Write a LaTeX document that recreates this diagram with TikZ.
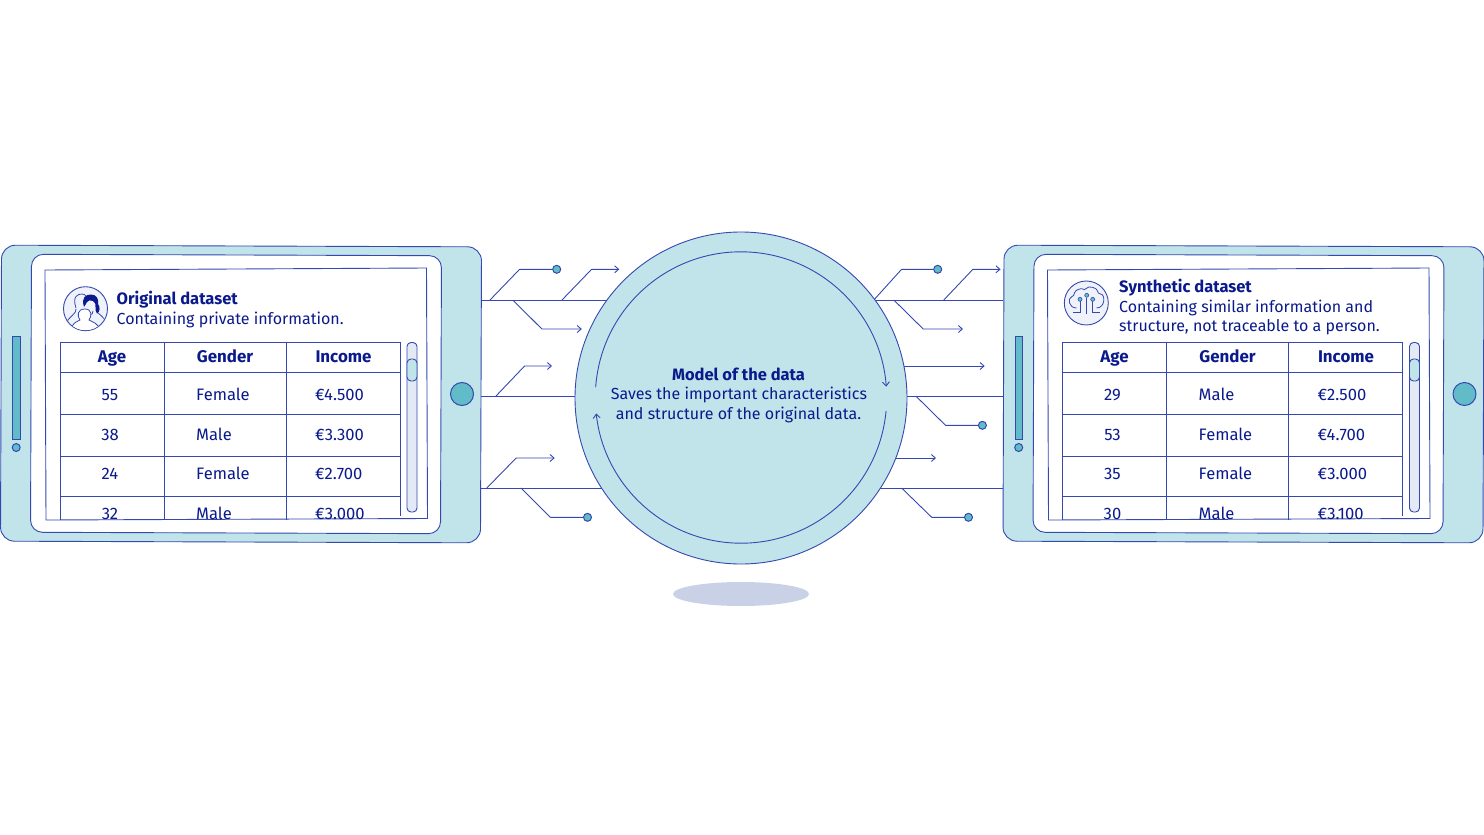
\documentclass[tikz,border=0pt]{standalone}
\usepackage{fontspec}
\setmainfont{Fira Sans}
\usetikzlibrary{arrows.meta,calc,shapes.geometric}
\definecolor{linec}{HTML}{3548B0}
\definecolor{textc}{HTML}{0A1A8C}
\definecolor{bodyc}{HTML}{C1E4EA}
\definecolor{tealc}{HTML}{62BBC8}
\definecolor{lavc}{HTML}{E4E9F6}
\definecolor{shadc}{HTML}{C9D1E6}
\tikzset{
  ln/.style={draw=linec,line width=0.9pt},
  txt/.style={text=textc,font=\fontsize{16}{19}\selectfont,inner sep=0pt,anchor=base west},
  tbl/.style={txt,font=\fontsize{16.6}{19}\selectfont},
  hd/.style={txt,font=\fontsize{16.5}{19}\selectfont\bfseries},
  thd/.style={txt,anchor=base,font=\fontsize{16.9}{19}\selectfont\bfseries},
  wire/.style={draw=linec,line width=0.9pt,line join=round},
  arrowwire/.style={wire,-{Straight Barb[length=4pt,width=7pt,line width=0.9pt]}},
  dotn/.style={circle,draw=linec,fill=tealc,line width=1pt,minimum size=8pt,inner sep=0pt},
  tabletbox/.style={ln,fill=bodyc,rounded corners=14pt,rectangle,minimum width=480pt,minimum height=296pt,inner sep=0pt,rotate=-0.2},
}
\newcommand{\tabletbody}[1]{%
  \begin{scope}[rotate around={-0.2:(241,394)}]
    \draw[ln,fill=white,rounded corners=12pt] (31,255) rectangle (441,533);
  \end{scope}
  \draw[ln,fill=white] (45,270) -- (426.5,268) -- (427.5,518.5) -- (46,520) -- cycle;
  \draw[ln,fill=lavc,rounded corners=4pt] (407,342.5) rectangle (417,512);
  \draw[ln,fill=bodyc,rounded corners=4pt] (407,359) rectangle (417,381);
  \draw[ln,fill=tealc] (12.8,336) rectangle (20,439);
  \node[dotn] (#1led) at (16.2,447.5) {};
  \node[dotn,minimum size=23pt] (#1btn) at (462,394) {};
  \draw[ln] (60,342) -- (400,342) (60,372) -- (400,372) (60,414) -- (400,414) (60,456.5) -- (400,456.5) (60,496) -- (400,496);
  \draw[ln] (60,342) -- (60,519.5) (164,342) -- (164,519.5) (286,342) -- (286,519.5) (400,342) -- (400,516);
  \node[thd] (#1hage) at (112,362.5) {Age};
  \node[thd] (#1hgen) at (225,362.5) {Gender};
  \node[thd] (#1hinc) at (343.5,362.5) {Income};
}
\newcommand{\tablerow}[5]{%
  \node[tbl,anchor=base] (#1a) at (110,#2) {#3};
  \node[tbl] (#1g) at (196,#2) {#4};
  \node[tbl] (#1i) at (315,#2) {#5};
}
\begin{document}
\begin{tikzpicture}[x=1pt,y=-1pt]
\useasboundingbox (0,0) rectangle (1484,835);
% tablets
\node[tabletbox] (ltab) at (241,394) {};
\node[tabletbox] (rtab) at (1243.5,394) {};
% shadow
\node[ellipse,fill=shadc,minimum width=136pt,minimum height=24pt,inner sep=0pt] (shadow) at (741,594) {};
% trunks run tablet to tablet, behind the circle
\coordinate (t1) at (300,300); \coordinate (t2) at (300,396); \coordinate (t3) at (300,488);
\draw[wire] (ltab.east |- t1) -- (rtab.west |- t1);
\draw[wire] (ltab.east |- t2) -- (rtab.west |- t2);
\draw[wire] (ltab.east |- t3) -- (rtab.west |- t3);
% left branches
\node[dotn] (dl1) at (556.7,269.3) {};
\draw[wire] (490,300) -- (519.6,269.3) -- (dl1);
\coordinate (al2) at (619.3,269.3);
\draw[arrowwire] (562,300) -- (591.6,269.3) -- (al2);
\coordinate (al3) at (581.8,329);
\draw[arrowwire] (512.8,300) -- (541.9,329) -- (al3);
\coordinate (al4) at (552,366);
\draw[arrowwire] (496,396) -- (524.6,366) -- (al4);
\coordinate (al5) at (554.7,458);
\draw[arrowwire] (486.8,488) -- (516.2,458) -- (al5);
\node[dotn] (dl6) at (587.5,517.3) {};
\draw[wire] (520.9,488) -- (550.3,517.3) -- (dl6);
% right branches
\node[dotn] (dr1) at (937.7,269.3) {};
\draw[wire] (873.8,300) -- (901.6,269.3) -- (dr1);
\coordinate (ar2) at (1000.6,269.3);
\draw[arrowwire] (943.8,300) -- (972.9,269.3) -- (ar2);
\coordinate (ar3) at (963,329);
\draw[arrowwire] (893.8,300) -- (923.2,329) -- (ar3);
\coordinate (ar4s) at (880,366); \coordinate (ar4) at (984.7,366);
\draw[arrowwire] (ar4s) -- (ar4);
\node[dotn] (dr5) at (982.4,425.3) {};
\draw[wire] (915.8,396) -- (945.5,425.3) -- (dr5);
\coordinate (ar6s) at (880,458); \coordinate (ar6) at (936,458);
\draw[arrowwire] (ar6s) -- (ar6);
\node[dotn] (dr7) at (968.5,517.3) {};
\draw[wire] (901.6,488) -- (931.7,517.3) -- (dr7);
% circle
\node[circle,ln,fill=bodyc,minimum size=332pt,inner sep=0pt] (model) at (741,398) {};
\coordinate (ringc) at (741,397.5);
\draw[arrowwire] ($(ringc)+(175.9:145.7pt)$) arc[start angle=175.9,end angle=4.3,radius=145.7pt];
\draw[arrowwire] ($(ringc)+(-5.3:145.7pt)$) arc[start angle=-5.3,end angle=-173.7,radius=145.7pt];
\node[hd,anchor=base] (modeltitle) at (738.5,380.3) {Model of the data};
\node[txt,anchor=base] (modelline1) at (739,399.7) {Saves the important characteristics};
\node[txt,anchor=base] (modelline2) at (738.5,419) {and structure of the original data.};
% left tablet
\tabletbody{l}
\tablerow{lr1}{400.5}{55}{Female}{€4.500}
\tablerow{lr2}{440}{38}{Male}{€3.300}
\tablerow{lr3}{479.7}{24}{Female}{€2.700}
\begin{scope}
  \clip (40,480) rectangle (430,519);
  \tablerow{lr4}{519.3}{32}{Male}{€3.000}
\end{scope}
\node[hd] (ltitle) at (116.5,304.7) {Original dataset};
\node[txt] (lsub) at (116.5,324) {Containing private information.};
\node[circle,ln,fill=lavc!60,minimum size=44pt,inner sep=0pt] (licon) at (85.5,308.7) {};
\begin{scope}
  \clip (85.5,308.7) circle[radius=21.5pt];
  % back figure
  \draw[linec,line width=0.8pt,line join=round] (76,308) .. controls (72,296) and (78,294) .. (82,294) .. controls (86,294) and (88,298) .. (87,302) (76,309) .. controls (77,313) and (70,316) .. (65,324);
  % woman
  \draw[linec,line width=0.8pt] (98,313) .. controls (102,316) and (106,320) .. (108,326);
  \draw[linec,line width=0.8pt] (88,310) .. controls (88,316) and (93,316) .. (93,311);
  \fill[textc] (84,307) .. controls (81,297) and (86,294.5) .. (91,294.5) .. controls (96.5,294.5) and (99,299) .. (98,304) .. controls (100.5,307) and (100,312) .. (97,313.5) .. controls (96,312) and (95,310) .. (95.5,307) .. controls (96,304) and (95,302) .. (93,301) .. controls (91,300) and (88,300) .. (87,302) .. controls (86,303) and (86,305) .. (84,307) -- cycle;
  % front figure
  \draw[linec,line width=0.8pt,fill=white] (70,332) .. controls (72,322) and (77,322) .. (80,320) .. controls (77,316) and (77,309) .. (85,309) .. controls (92,309) and (92,316) .. (89,320) .. controls (92,322) and (99,323) .. (101,332) -- cycle;
\end{scope}
% right tablet
\begin{scope}[xshift=1002.5pt]
\tabletbody{r}
\tablerow{rr1}{400.5}{29}{Male}{€2.500}
\tablerow{rr2}{440}{53}{Female}{€4.700}
\tablerow{rr3}{479.7}{35}{Female}{€3.000}
\begin{scope}
  \clip (40,480) rectangle (430,519);
  \tablerow{rr4}{519.3}{30}{Male}{€3.100}
\end{scope}
\node[hd] (rtitle) at (116.5,292.7) {Synthetic dataset};
\node[txt] (rsub1) at (116.5,312) {Containing similar information and};
\node[txt] (rsub2) at (116.5,331.3) {structure, not traceable to a person.};
\node[circle,ln,fill=lavc!60,minimum size=44pt,inner sep=0pt] (ricon) at (83.8,303) {};
\draw[linec,line width=0.8pt,line join=round,rounded corners=3pt] (74,308) .. controls (66,308) and (65,298) .. (72,296) .. controls (72,290) and (79,288) .. (82,291) .. controls (86,285) and (95,288) .. (95,294) .. controls (103,294) and (103,308) .. (94,308);
\draw[linec,line width=0.8pt] (77.5,301) -- (77.5,312) -- (70.5,312) (84.2,298) -- (84.2,314) (90.2,301) -- (90.2,312) -- (97.5,312);
\node[dotn,minimum size=4pt,line width=0.6pt] (rn1) at (77.5,299.3) {};
\node[dotn,minimum size=4pt,line width=0.6pt] (rn2) at (84.2,295.3) {};
\node[dotn,minimum size=4pt,line width=0.6pt] (rn3) at (90.2,299.3) {};
\end{scope}
\end{tikzpicture}
\end{document}
